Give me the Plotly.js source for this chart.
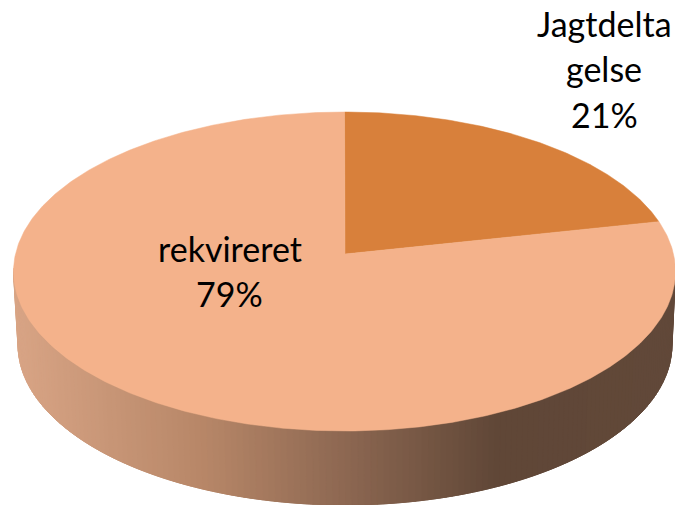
<!DOCTYPE html>
<html>
<head>
<meta charset="utf-8">
<script src="https://cdn.plot.ly/plotly-3.0.1.min.js"></script>
<style>html,body{margin:0;padding:0;background:#fff}</style>
</head>
<body>
<div id="chart" style="width:675px;height:505px"></div>
<script>
// Data
var categories = ['Jagtdelta gelse', 'rekvireret'];
var values = [21.4, 78.6];
var labelLines = [['Jagtdelta', 'gelse'], ['rekvireret']];
var sliceColors = ['#d8803b', '#f4b28b'];

// Picture geometry, in chart-space units (axes run 0..675 and 505..0)
var top3d = {cx: 344.5, cy: 271.5, rx: 331, ry: 159.5};
var bot3d = {cx: 345, cy: 345, rx: 327, ry: 160};
var persp = 0.095;
var sideStops = [[13, [216,164,133]], [200, [182,134,103]], [330, [143,105,83]], [490, [96,71,55]], [675, [97,72,57]]];
var labelPos = [[{x:604,y:23},{x:604,y:68},{x:604,y:114}], [{x:229.5,y:248},{x:229.5,y:293}]];

function rim(e, a) { // a = clockwise turn from top, radians; perspective projection of a circle
  var Y = Math.cos(a), X = Math.sin(a), d = 1 + persp * Y;
  return [e.cx + e.rx * X * Math.sqrt(1 - persp * persp) / d, e.cy - e.ry * (Y + persp) / d];
}
function sideColor(x) {
  for (var i = 1; i < sideStops.length; i++) {
    if (x <= sideStops[i][0]) {
      var a = sideStops[i-1], b = sideStops[i], f = Math.max(0, (x - a[0]) / (b[0] - a[0]));
      return 'rgb(' + a[1].map(function(c, j){ return Math.round(c + (b[1][j] - c) * f); }).join(',') + ')';
    }
  }
  return 'rgb(97,72,57)';
}
function flat(e, a) { return [e.cx + e.rx * Math.sin(a), e.cy - e.ry * Math.cos(a)]; }

var traces = [];
// Side wall: vertical strips following the lower half of the rim
var strips = 160;
for (var i = 0; i < strips; i++) {
  var a0 = Math.PI / 2 + Math.PI * i / strips - 0.02, a1 = Math.PI / 2 + Math.PI * (i + 1) / strips + 0.02;
  var p = [flat(top3d, a0), flat(top3d, a1), flat(bot3d, a1), flat(bot3d, a0)];
  var col = sideColor((p[0][0] + p[1][0]) / 2);
  traces.push({type:'scatter', mode:'lines', fill:'toself', fillcolor:col, line:{color:col, width:0.6},
    x:p.map(function(q){return q[0];}).concat(p[0][0]), y:p.map(function(q){return q[1];}).concat(p[0][1]),
    hoverinfo:'skip', showlegend:false});
}
// Top face slices, from the values
var total = values.reduce(function(s, v){ return s + v; }, 0);
var start = 0;
var apex = [345, 254];
values.forEach(function(v, k) {
  var end = start + v / total * 2 * Math.PI, xs = [apex[0]], ys = [apex[1]];
  var n = Math.ceil(v * 6);
  for (var j = 0; j <= n; j++) {
    var pt = rim(top3d, start + (end - start) * j / n);
    xs.push(pt[0]); ys.push(pt[1]);
  }
  xs.push(apex[0]); ys.push(apex[1]);
  traces.push({type:'scatter', mode:'lines', fill:'toself', fillcolor:sliceColors[k],
    line:{color:sliceColors[k], width:0.5}, x:xs, y:ys, name:categories[k], hoverinfo:'name', showlegend:false});
  start = end;
});

var annotations = [];
values.forEach(function(v, k) {
  var lines = labelLines[k].concat(Math.round(v / total * 100) + '%');
  lines.forEach(function(t, j) {
    annotations.push({x:labelPos[k][j].x, y:labelPos[k][j].y, xref:'x', yref:'y', text:t, showarrow:false,
      xanchor:'center', yanchor:'middle', font:{family:'Lato, Carlito, sans-serif', size:34, color:'#000'}});
  });
});

Plotly.newPlot('chart', traces, {
  width:675, height:505, margin:{l:0, r:0, t:0, b:0}, paper_bgcolor:'#fff', plot_bgcolor:'#fff', showlegend:false,
  xaxis:{range:[0,675], visible:false, fixedrange:true},
  yaxis:{range:[505,0], visible:false, fixedrange:true},
  annotations:annotations
}, {displayModeBar:false, staticPlot:true});
</script>
</body>
</html>
